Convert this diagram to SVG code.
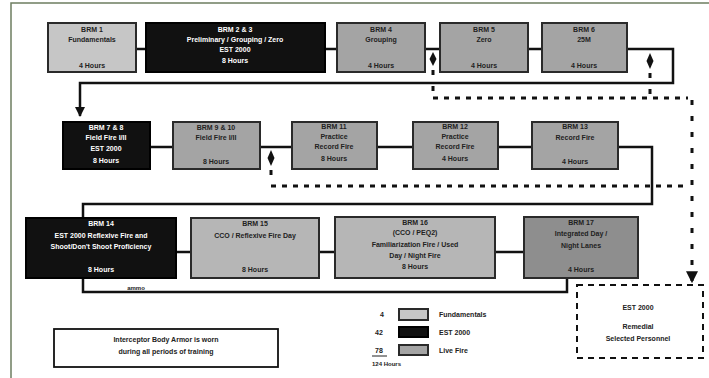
<svg xmlns="http://www.w3.org/2000/svg" width="709" height="378" viewBox="0 0 709 378">
<defs>
<style>
.t{font-family:"Liberation Sans",Arial,sans-serif;font-size:7px;font-weight:bold;text-anchor:middle}
.w{fill:#ffffff}.d{fill:#222222}
.blk{fill:#111111;stroke:#000000;stroke-width:2}
.g{fill:#a4a4a4;stroke:#2a2a2a;stroke-width:2}
.lg{fill:#c6c6c6;stroke:#2a2a2a;stroke-width:2}
.mg{fill:#b6b6b6;stroke:#2a2a2a;stroke-width:2}
.dg{fill:#8e8e8e;stroke:#2a2a2a;stroke-width:2}
.ln{fill:none;stroke:#111111;stroke-width:2.5}
.dash{fill:none;stroke:#111111;stroke-width:3;stroke-dasharray:5 6}
.dot{fill:none;stroke:#111111;stroke-width:3;stroke-dasharray:5 11}
.lt{font-family:"Liberation Sans",Arial,sans-serif;font-size:7px;font-weight:bold;fill:#222222}
</style>
<marker id="ah" viewBox="0 0 10 10" refX="9" refY="5" markerWidth="4" markerHeight="4" orient="auto"><path d="M0,0 L10,5 L0,10 z" fill="#111111"/></marker>
</defs>
<rect x="0" y="0" width="709" height="378" fill="#ffffff"/>
<rect x="11" y="3" width="720" height="400" fill="none" stroke="#6d7d60" stroke-width="1.5"/>

<g id="connectors">
<path class="ln" d="M136,49 H146 M325,49 H337 M425,49 H440 M528,49 H542"/>
<path class="ln" d="M627,49 H673 V83 H80 V116" marker-end="url(#ah)"/>
<path class="ln" d="M150,147 H173 M260,147 H292 M377,147 H413 M498,147 H532"/>
<path class="ln" d="M618,147 H652 V204 H83 V218"/>
<path class="ln" d="M176,252 H191 M319,252 H335 M495,252 H524"/>
<path class="ln" d="M83,278 V292 H567 V278"/>
<polygon points="433,52 436.5,59 433,66 429.5,59" fill="#111111"/>
<polygon points="650,53 653.5,61 650,69 646.5,61" fill="#111111"/>
<polygon points="271,150 274.5,158 271,166 267.5,158" fill="#111111"/>
<path class="dot" d="M433,70 V98"/>
<path class="dot" d="M650,73 V98"/>
<path class="dot" d="M271,170 V186"/>
<path class="dash" d="M433,98 H688"/>
<path class="dash" d="M271,186 H688"/>
<path class="dot" d="M692,100 V282" marker-end="url(#ah)"/>
</g>

<g id="n1"><rect class="lg" x="48" y="23" width="88" height="49"/>
<text class="t d" x="92" y="32">BRM 1</text><text class="t d" x="92" y="42">Fundamentals</text><text class="t d" x="92" y="68">4 Hours</text></g>
<g id="n2"><rect class="blk" x="146" y="23" width="179" height="49"/>
<text class="t w" x="235" y="32">BRM 2 &amp; 3</text><text class="t w" x="235" y="42">Preliminary / Grouping / Zero</text><text class="t w" x="235" y="52">EST 2000</text><text class="t w" x="235" y="63">8 Hours</text></g>
<g id="n3"><rect class="g" x="337" y="23" width="88" height="49"/>
<text class="t d" x="381" y="32">BRM 4</text><text class="t d" x="381" y="42">Grouping</text><text class="t d" x="381" y="68">4 Hours</text></g>
<g id="n4"><rect class="g" x="440" y="23" width="88" height="49"/>
<text class="t d" x="484" y="32">BRM 5</text><text class="t d" x="484" y="42">Zero</text><text class="t d" x="484" y="68">4 Hours</text></g>
<g id="n5"><rect class="g" x="542" y="23" width="85" height="49"/>
<text class="t d" x="584" y="32">BRM 6</text><text class="t d" x="584" y="42">25M</text><text class="t d" x="584" y="68">4 Hours</text></g>

<g id="n6"><rect class="blk" x="63" y="122" width="87" height="47"/>
<text class="t w" x="106" y="130">BRM 7 &amp; 8</text><text class="t w" x="106" y="140">Field Fire I/II</text><text class="t w" x="106" y="151">EST 2000</text><text class="t w" x="106" y="163">8 Hours</text></g>
<g id="n7"><rect class="g" x="173" y="122" width="87" height="47"/>
<text class="t d" x="216" y="130">BRM 9 &amp; 10</text><text class="t d" x="216" y="140">Field Fire I/II</text><text class="t d" x="216" y="164">8 Hours</text></g>
<g id="n8"><rect class="g" x="292" y="122" width="85" height="47"/>
<text class="t d" x="334" y="129">BRM 11</text><text class="t d" x="334" y="139">Practice</text><text class="t d" x="334" y="149">Record Fire</text><text class="t d" x="334" y="161">8 Hours</text></g>
<g id="n9"><rect class="g" x="413" y="122" width="85" height="47"/>
<text class="t d" x="455" y="129">BRM 12</text><text class="t d" x="455" y="139">Practice</text><text class="t d" x="455" y="149">Record Fire</text><text class="t d" x="455" y="161">4 Hours</text></g>
<g id="n10"><rect class="g" x="532" y="122" width="86" height="47"/>
<text class="t d" x="575" y="129">BRM 13</text><text class="t d" x="575" y="140">Record Fire</text><text class="t d" x="575" y="164">4 Hours</text></g>

<g id="n11"><rect class="blk" x="26" y="218" width="150" height="60"/>
<text class="t w" x="101" y="226">BRM 14</text><text class="t w" x="101" y="238">EST 2000 Reflexive Fire and</text><text class="t w" x="101" y="249">Shoot/Don't Shoot Proficiency</text><text class="t w" x="101" y="272">8 Hours</text></g>
<g id="n12"><rect class="mg" x="191" y="218" width="128" height="60"/>
<text class="t d" x="255" y="226">BRM 15</text><text class="t d" x="255" y="238">CCO / Reflexive Fire Day</text><text class="t d" x="255" y="272">8 Hours</text></g>
<g id="n13"><rect class="mg" x="335" y="217" width="160" height="61"/>
<text class="t d" x="415" y="225">BRM 16</text><text class="t d" x="415" y="235">(CCO / PEQ2)</text><text class="t d" x="415" y="247">Familiarization Fire / Used</text><text class="t d" x="415" y="258">Day / Night Fire</text><text class="t d" x="415" y="269">8 Hours</text></g>
<g id="n14"><rect class="dg" x="524" y="217" width="114" height="61"/>
<text class="t d" x="581" y="225">BRM 17</text><text class="t d" x="581" y="236">Integrated Day /</text><text class="t d" x="581" y="248">Night Lanes</text><text class="t d" x="581" y="272">4 Hours</text></g>

<text class="t d" x="136" y="290" style="font-size:6px">ammo</text>

<g id="remedial"><rect x="577" y="285" width="126" height="73" fill="#ffffff" stroke="#111111" stroke-width="2" stroke-dasharray="6 5"/>
<text class="t d" x="638" y="310">EST 2000</text><text class="t d" x="638" y="329">Remedial</text><text class="t d" x="638" y="341">Selected Personnel</text></g>

<g id="note"><rect x="54" y="329" width="224" height="38" fill="#ffffff" stroke="#111111" stroke-width="1.8"/>
<text class="t d" x="166" y="342">Interceptor Body Armor is worn</text><text class="t d" x="166" y="354">during all periods of training</text></g>

<g id="legend">
<text class="lt" x="382" y="317" text-anchor="middle">4</text>
<rect x="399" y="309" width="29" height="11" fill="#c6c6c6" stroke="#2a2a2a" stroke-width="2"/>
<text class="lt" x="439" y="317">Fundamentals</text>
<text class="lt" x="379" y="335" text-anchor="middle">42</text>
<rect x="399" y="327" width="29" height="10" fill="#111111" stroke="#000000" stroke-width="2"/>
<text class="lt" x="439" y="335">EST 2000</text>
<text class="lt" x="379" y="353" text-anchor="middle">78</text>
<line x1="372" y1="356" x2="387" y2="356" stroke="#222222" stroke-width="1"/>
<rect x="399" y="345" width="29" height="10" fill="#a4a4a4" stroke="#2a2a2a" stroke-width="2"/>
<text class="lt" x="439" y="353">Live Fire</text>
<text class="lt" x="372" y="366" style="font-size:6px">124 Hours</text>
</g>
</svg>
